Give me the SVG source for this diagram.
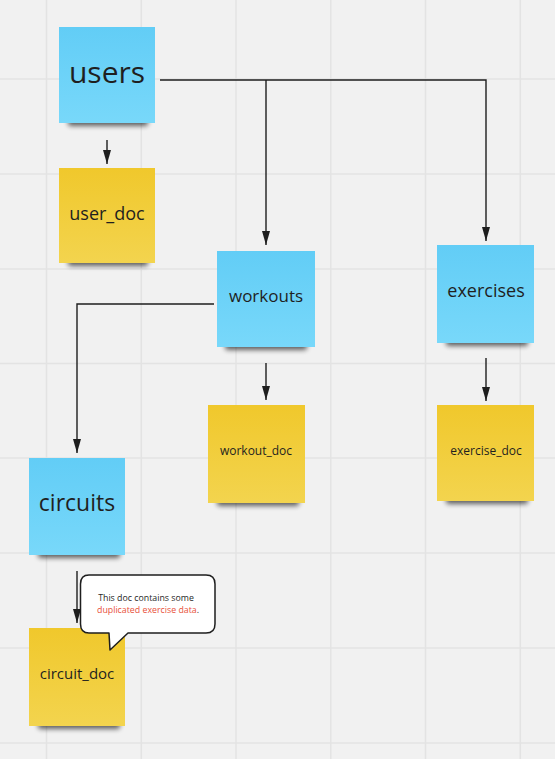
<svg xmlns="http://www.w3.org/2000/svg" width="555" height="759" viewBox="0 0 555 759">
<style>
.grid line{stroke:#e3e3e3;stroke-width:1.5}
.conn{fill:none;stroke:#1e1e1e;stroke-width:1.4}
.lbl{font-family:"Open Sans","Noto Sans",sans-serif;fill:#1f1f1f;text-anchor:middle}
.shadow{fill:#000;opacity:0.6;filter:url(#blur)}
</style>
<defs>
<linearGradient id="gBlue" x1="0" y1="0" x2="0" y2="1">
<stop offset="0" stop-color="#62cdf6"/><stop offset="1" stop-color="#78d8fa"/>
</linearGradient>
<linearGradient id="gYel" x1="0" y1="0" x2="0" y2="1">
<stop offset="0" stop-color="#f0c82c"/><stop offset="1" stop-color="#f3d44e"/>
</linearGradient>
<filter id="blur" x="-20%" y="-100%" width="140%" height="300%"><feGaussianBlur stdDeviation="2.8"/></filter>
<marker id="arrL" viewBox="0 0 14 8" refX="14" refY="4" markerWidth="14" markerHeight="8" markerUnits="userSpaceOnUse" orient="auto">
<path d="M0,0 L14,4 L0,8 z" fill="#1e1e1e"/>
</marker>
</defs>
<rect width="555" height="759" fill="#f1f1f1"/>
<g class="grid">
<line x1="46.5" y1="0" x2="46.5" y2="759"/>
<line x1="141.3" y1="0" x2="141.3" y2="759"/>
<line x1="236" y1="0" x2="236" y2="759"/>
<line x1="330.8" y1="0" x2="330.8" y2="759"/>
<line x1="425.5" y1="0" x2="425.5" y2="759"/>
<line x1="520.3" y1="0" x2="520.3" y2="759"/>
<line x1="0" y1="79" x2="555" y2="79"/>
<line x1="0" y1="174" x2="555" y2="174"/>
<line x1="0" y1="269" x2="555" y2="269"/>
<line x1="0" y1="363.5" x2="555" y2="363.5"/>
<line x1="0" y1="458" x2="555" y2="458"/>
<line x1="0" y1="553" x2="555" y2="553"/>
<line x1="0" y1="648" x2="555" y2="648"/>
<line x1="0" y1="743" x2="555" y2="743"/>
</g>
<g id="connectors">
<path class="conn" d="M160,80 H486 V241" marker-end="url(#arrL)"/>
<path class="conn" d="M266,80 V245" marker-end="url(#arrL)"/>
<path class="conn" d="M107,140 V164" marker-end="url(#arrL)"/>
<path class="conn" d="M266,363 V400" marker-end="url(#arrL)"/>
<path class="conn" d="M486,358 V401" marker-end="url(#arrL)"/>
<path class="conn" d="M214,304 H77 V453" marker-end="url(#arrL)"/>
<path class="conn" d="M77,571 V623" marker-end="url(#arrL)"/>
</g>
<g id="users">
<rect class="shadow" x="68" y="117" width="80" height="9" rx="3"/>
<rect x="59" y="27" width="96" height="96" fill="url(#gBlue)"/>
<text class="lbl" x="107" y="83" font-size="30">users</text>
</g>
<g id="user_doc">
<rect class="shadow" x="68" y="257" width="80" height="9" rx="3"/>
<rect x="59" y="168" width="96" height="95" fill="url(#gYel)"/>
<text class="lbl" x="107" y="220" font-size="18">user_doc</text>
</g>
<g id="workouts">
<rect class="shadow" x="225" y="341" width="82" height="9" rx="3"/>
<rect x="217" y="251" width="98" height="96" fill="url(#gBlue)"/>
<text class="lbl" x="266" y="302" font-size="17">workouts</text>
</g>
<g id="exercises">
<rect class="shadow" x="446" y="337" width="82" height="9" rx="3"/>
<rect x="437" y="245" width="97" height="98" fill="url(#gBlue)"/>
<text class="lbl" x="486" y="297" font-size="18">exercises</text>
</g>
<g id="workout_doc">
<rect class="shadow" x="217" y="497" width="82" height="9" rx="3"/>
<rect x="208" y="405" width="97" height="98" fill="url(#gYel)"/>
<text class="lbl" x="256" y="455" font-size="12">workout_doc</text>
</g>
<g id="exercise_doc">
<rect class="shadow" x="446" y="495" width="82" height="9" rx="3"/>
<rect x="437" y="405" width="97" height="96" fill="url(#gYel)"/>
<text class="lbl" x="486" y="455" font-size="12">exercise_doc</text>
</g>
<g id="circuits">
<rect class="shadow" x="38" y="549" width="82" height="9" rx="3"/>
<rect x="29" y="458" width="96" height="97" fill="url(#gBlue)"/>
<text class="lbl" x="77" y="511" font-size="23">circuits</text>
</g>
<g id="circuit_doc">
<rect class="shadow" x="38" y="720" width="82" height="9" rx="3"/>
<rect x="29" y="628" width="96" height="98" fill="url(#gYel)"/>
<text class="lbl" x="77" y="679" font-size="15">circuit_doc</text>
</g>
<g id="callout">
<path d="M89,575 H206 Q215,575 215,584 V624 Q215,633 206,633 H128 L110,650 L109,633 H89 Q80.5,633 80.5,624 V584 Q80.5,575 89,575 Z" fill="#ffffff" stroke="#1e1e1e" stroke-width="1.5" stroke-linejoin="round"/>
<text class="lbl" x="146" y="601" font-size="8.8" fill="#333">This doc contains some</text>
<text class="lbl" x="148" y="613" font-size="8.8"><tspan fill="#e8503a">duplicated exercise data</tspan><tspan fill="#333">.</tspan></text>
</g>
</svg>
